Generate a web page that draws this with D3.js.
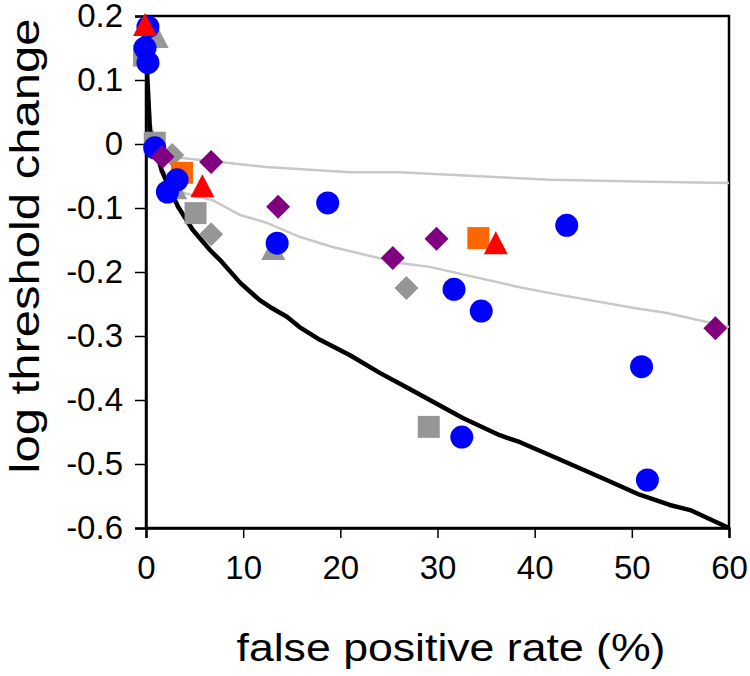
<!DOCTYPE html>
<html>
<head>
<meta charset="utf-8">
<script src="https://cdn.jsdelivr.net/npm/d3@7"></script>
<style>
  html, body { margin: 0; padding: 0; background: #fff; }
  svg { display: block; font-family: "Liberation Sans", Arial, sans-serif; }
</style>
</head>
<body>
<svg id="chart" width="750" height="676"></svg>
<script>
// ---- data (x: false positive rate %, y: log threshold change) ----
const xTicks = [0, 10, 20, 30, 40, 50, 60];
const yTicks = [0.2, 0.1, 0, -0.1, -0.2, -0.3, -0.4, -0.5, -0.6];
const yTickLabels = ["0.2", "0.1", "0", "-0.1", "-0.2", "-0.3", "-0.4", "-0.5", "-0.6"];

const blackCurve = [
  [0.1, 0.116], [0.4, 0.022], [0.9, -0.002], [1.6, -0.041], [2.5, -0.072],
  [3.3, -0.098], [4.8, -0.134], [6.6, -0.166], [7.6, -0.181], [9.7, -0.217],
  [11.7, -0.244], [12.8, -0.255], [14.5, -0.270], [15.8, -0.286], [17.9, -0.306],
  [21.0, -0.330], [24.1, -0.358], [26.9, -0.381], [32.6, -0.428], [36.4, -0.455],
  [38.5, -0.466], [42.3, -0.491], [47.4, -0.525], [50.8, -0.548], [53.9, -0.564],
  [56.0, -0.572], [60, -0.6]
];
const grayCurveUpper = [
  [0.1, 0.116], [0.5, 0.030], [1.2, -0.006], [2.5, -0.020], [7.6, -0.028],
  [12.4, -0.036], [21.0, -0.044], [26.1, -0.044], [41.6, -0.056], [51.9, -0.059],
  [60, -0.061]
];
const grayCurveLower = [
  [0.1, 0.116], [0.5, 0.030], [1.4, -0.033], [3.5, -0.075], [6.9, -0.088],
  [9.7, -0.111], [12.4, -0.123], [15.8, -0.145], [19.2, -0.161], [26.1, -0.186],
  [29.2, -0.192], [38.2, -0.223], [41.6, -0.233], [50.1, -0.256], [53.6, -0.264],
  [60, -0.286]
];

const graySquares = [[-0.2, 0.138], [0.9, 0.002], [5.1, -0.108], [29.1, -0.442]];
const grayDiamonds = [[2.7, -0.017], [6.7, -0.141], [26.8, -0.225]];
const grayTriangles = [[1.1, 0.167], [3.0, -0.069], [13.1, -0.164]];
const orangeSquares = [[3.7, -0.045], [34.2, -0.147]];
const blueCircles = [
  [0.2, 0.183], [-0.1, 0.150], [0.2, 0.127], [0.9, -0.006], [3.2, -0.056],
  [2.2, -0.075], [18.7, -0.092], [13.5, -0.155], [43.3, -0.127], [31.7, -0.227],
  [34.5, -0.261], [51.0, -0.348], [32.5, -0.458], [51.6, -0.525]
];
const purpleDiamonds = [[1.7, -0.020], [6.7, -0.028], [13.6, -0.098], [25.4, -0.178], [29.9, -0.148], [58.6, -0.288]];
const redTriangles = [[-0.1, 0.186], [5.8, -0.066], [36.0, -0.155]];

// ---- layout ----
const svg = d3.select("#chart");
const mLeft = 146, mRight = 729, mTop = 16, mBottom = 528;
const x = d3.scaleLinear().domain([0, 60]).range([mLeft, mRight]);
const y = d3.scaleLinear().domain([-0.6, 0.2]).range([mBottom, mTop]);

// frame (top and right borders)
svg.append("rect")
  .attr("x", mLeft).attr("y", mTop)
  .attr("width", mRight - mLeft).attr("height", mBottom - mTop)
  .attr("fill", "none").attr("stroke", "#000").attr("stroke-width", 2.5);

// axes
const yAxis = d3.axisLeft(y).tickValues(yTicks).tickSize(11).tickPadding(12)
  .tickFormat((d, i) => yTickLabels[i]);
const gy = svg.append("g").attr("transform", `translate(${mLeft},0)`).call(yAxis);
const xAxis = d3.axisBottom(x).tickValues(xTicks).tickSize(10).tickPadding(30)
  .tickFormat(d => String(d));
const gx = svg.append("g").attr("transform", `translate(0,${mBottom})`).call(xAxis);

[gx, gy].forEach(g => {
  g.select(".domain").attr("stroke", "#000").attr("stroke-width", 2.5);
  g.selectAll(".tick line").attr("stroke", "#000").attr("stroke-width", 1.5);
  g.selectAll(".tick text").attr("fill", "#000").attr("font-size", 33)
    .attr("font-family", "Liberation Sans, Arial, sans-serif");
});
gx.selectAll(".tick text").attr("dy", "0.71em").attr("y", 28);

// axis titles
svg.append("text")
  .attr("x", 451).attr("y", 661)
  .attr("text-anchor", "middle")
  .attr("font-size", 38)
  .attr("textLength", 429).attr("lengthAdjust", "spacingAndGlyphs")
  .text("false positive rate (%)");
svg.append("text")
  .attr("transform", "translate(39,246) rotate(-90)")
  .attr("text-anchor", "middle")
  .attr("font-size", 40)
  .attr("textLength", 455).attr("lengthAdjust", "spacingAndGlyphs")
  .text("log threshold change");

// curves
const line = d3.line().x(d => x(d[0])).y(d => y(d[1]));
svg.append("path").datum(grayCurveUpper).attr("d", line)
  .attr("fill", "none").attr("stroke", "#c8c8c8").attr("stroke-width", 2.5);
svg.append("path").datum(grayCurveLower).attr("d", line)
  .attr("fill", "none").attr("stroke", "#c8c8c8").attr("stroke-width", 2.5);
svg.append("path").datum(blackCurve).attr("d", line)
  .attr("fill", "none").attr("stroke", "#000").attr("stroke-width", 4.5)
  .attr("stroke-linejoin", "round");

// marker shapes
const shapes = {
  square: "M-11,-11H11V11H-11Z",
  diamond: "M0,-12L12,0L0,12L-12,0Z",
  triangle: "M0,-12L12,11H-12Z",
  circle: d3.symbol().type(d3.symbolCircle).size(Math.PI * 11.5 * 11.5)()
};
function drawMarkers(data, shape, color) {
  svg.append("g").selectAll("path").data(data).join("path")
    .attr("transform", d => `translate(${x(d[0])},${y(d[1])})`)
    .attr("d", shapes[shape])
    .attr("fill", color);
}
drawMarkers(graySquares, "square", "#969696");
drawMarkers(grayDiamonds, "diamond", "#969696");
drawMarkers(grayTriangles, "triangle", "#969696");
drawMarkers(orangeSquares, "square", "#ff6600");
drawMarkers(blueCircles, "circle", "#0000ff");
drawMarkers(purpleDiamonds, "diamond", "#800080");
drawMarkers(redTriangles, "triangle", "#ff0000");
</script>
</body>
</html>
